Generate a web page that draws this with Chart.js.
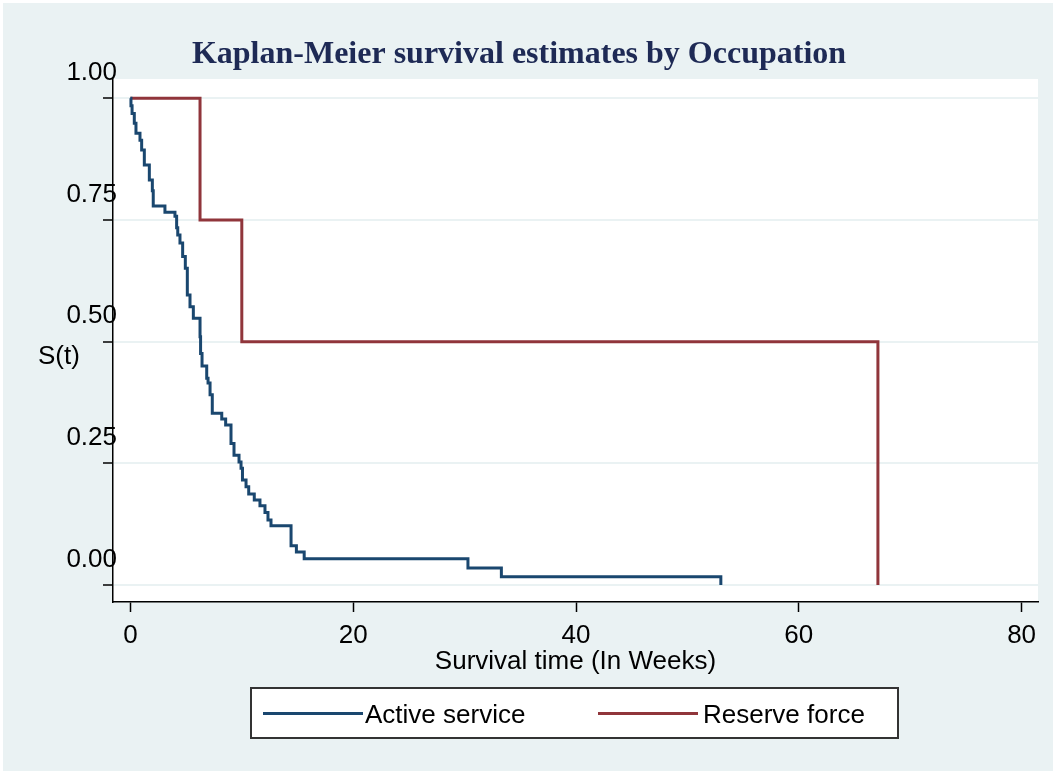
<!DOCTYPE html>
<html><head><meta charset="utf-8">
<script src="https://cdn.jsdelivr.net/npm/chart.js@4.4.1/dist/chart.umd.min.js"></script>
<style>
html,body{margin:0;padding:0;background:#fff;}
canvas{display:block;}
</style></head><body>
<canvas id="c" width="1053" height="771"></canvas>
<script>
// ---- data ----
const activeTimes = [0, 0.05, 0.15, 0.35, 0.50, 0.86, 1.01, 1.25, 1.70, 1.97, 2.05, 3.1, 4.0, 4.15, 4.25, 4.45, 4.69, 4.93, 5.11, 5.35, 5.65, 6.25, 6.3, 6.43, 6.85, 6.97, 7.15, 7.35, 8.2, 8.55, 9.03, 9.3, 9.75, 9.93, 10.06, 10.38, 10.62, 11.12, 11.63, 12.08, 12.35, 12.62, 14.42, 14.9, 15.6, 30.3, 33.3, 53.0];
const activeSurv  = [1, 0.985, 0.969, 0.949, 0.928, 0.914, 0.894, 0.863, 0.832, 0.81, 0.779, 0.766, 0.758, 0.734, 0.719, 0.703, 0.675, 0.651, 0.596, 0.572, 0.548, 0.51, 0.476, 0.450, 0.425, 0.415, 0.391, 0.353, 0.341, 0.329, 0.291, 0.267, 0.253, 0.240, 0.216, 0.202, 0.187, 0.175, 0.163, 0.149, 0.134, 0.122, 0.081, 0.068, 0.054, 0.035, 0.017, 0];
const reserveTimes = [0, 6.25, 10.0, 67.1];
const reserveSurv  = [1, 0.75, 0.5, 0];
const seriesLabels = ['Active service', 'Reserve force'];
const xTickValues = [0, 20, 40, 60, 80];
const yTickValues = [0, 0.25, 0.5, 0.75, 1];
const chartTitle = 'Kaplan-Meier survival estimates by Occupation';
const xTitle = 'Survival time (In Weeks)';
const yTitle = 'S(t)';

const BG = '#EAF2F3';
const SANS = '"Liberation Sans", Arial, sans-serif';

const bgPlugin = {
  id: 'bg',
  beforeDraw(chart) {
    const {ctx, chartArea: a} = chart;
    ctx.save();
    ctx.fillStyle = '#ffffff';
    ctx.fillRect(0, 0, chart.width, chart.height);
    ctx.fillStyle = BG;
    ctx.fillRect(3, 3, chart.width - 3, chart.height - 3);
    ctx.fillStyle = '#ffffff';
    ctx.fillRect(a.left, a.top, a.right - a.left, a.bottom - a.top);
    ctx.restore();
  }
};

const extrasPlugin = {
  id: 'extras',
  afterDraw(chart) {
    const ctx = chart.ctx;
    ctx.save();
    // y axis title (horizontal, Stata style)
    ctx.font = '26px ' + SANS;
    ctx.fillStyle = '#000';
    ctx.textAlign = 'left';
    ctx.textBaseline = 'middle';
    ctx.fillText(yTitle, 38, 357);
    // legend box
    const bx = 251, by = 688, bw = 647, bh = 50;
    ctx.fillStyle = '#fff';
    ctx.fillRect(bx, by, bw, bh);
    ctx.strokeStyle = '#333';
    ctx.lineWidth = 2;
    ctx.strokeRect(bx, by, bw, bh);
    const starts = [263, 598];
    const gaps = [102, 105];
    chart.data.datasets.forEach((ds, i) => {
      const lx = starts[i];
      ctx.strokeStyle = ds.borderColor;
      ctx.lineWidth = 3;
      ctx.beginPath();
      ctx.moveTo(lx, 713.5);
      ctx.lineTo(lx + 100, 713.5);
      ctx.stroke();
      ctx.fillStyle = '#000';
      ctx.fillText(ds.label, lx + gaps[i], 716);
    });
    ctx.restore();
  }
};

const toPts = (ts, ss) => ts.map((t, i) => ({x: t, y: ss[i]}));

new Chart(document.getElementById('c'), {
  type: 'line',
  data: {
    datasets: [
      {label: seriesLabels[0], data: toPts(activeTimes, activeSurv), borderColor: '#1A476F', borderWidth: 3, stepped: true, pointRadius: 0, fill: false},
      {label: seriesLabels[1], data: toPts(reserveTimes, reserveSurv), borderColor: '#90353B', borderWidth: 3, stepped: true, pointRadius: 0, fill: false}
    ]
  },
  options: {
    responsive: false, animation: false, devicePixelRatio: 1,
    layout: {padding: {left: 0, right: 15, top: 0, bottom: 94}},
    plugins: {
      legend: {display: false},
      tooltip: {enabled: false},
      title: {display: true, text: chartTitle, color: '#1E2A55',
        font: {family: '"Liberation Serif", "Times New Roman", serif', size: 32, weight: 'bold', lineHeight: 1.2},
        padding: {top: 35.8, bottom: 4.8}}
    },
    scales: {
      x: {
        type: 'linear', min: -1.562, max: 81.47,
        afterBuildTicks: s => { s.ticks = xTickValues.map(v => ({value: v})); },
        afterFit: s => { s.height = 75; },
        grid: {drawOnChartArea: false, drawTicks: true, tickLength: 10, tickColor: '#000', tickWidth: 1.5},
        border: {display: true, color: '#000', width: 1.5},
        ticks: {color: '#000', font: {family: SANS, size: 26}, padding: 8, maxRotation: 0, autoSkip: false},
        title: {display: true, text: xTitle, color: '#000', font: {family: SANS, size: 26, lineHeight: 1.2}, padding: {top: 0, bottom: 0}}
      },
      y: {
        type: 'linear', min: -0.0347, max: 1.0397,
        afterBuildTicks: s => { s.ticks = yTickValues.map(v => ({value: v})); },
        afterFit: s => { s.width = 113; s._computeLabelArea = () => null; },
        grid: {color: BG, lineWidth: 2, tickLength: 10, tickColor: '#000', tickWidth: 1.5},
        border: {display: true, color: '#000', width: 1.5},
        ticks: {color: '#000', font: {family: SANS, size: 26}, padding: -14, labelOffset: -25.5, autoSkip: false,
          callback: v => Number(v).toFixed(2)}
      }
    }
  },
  plugins: [bgPlugin, extrasPlugin]
});
</script>
</body></html>
